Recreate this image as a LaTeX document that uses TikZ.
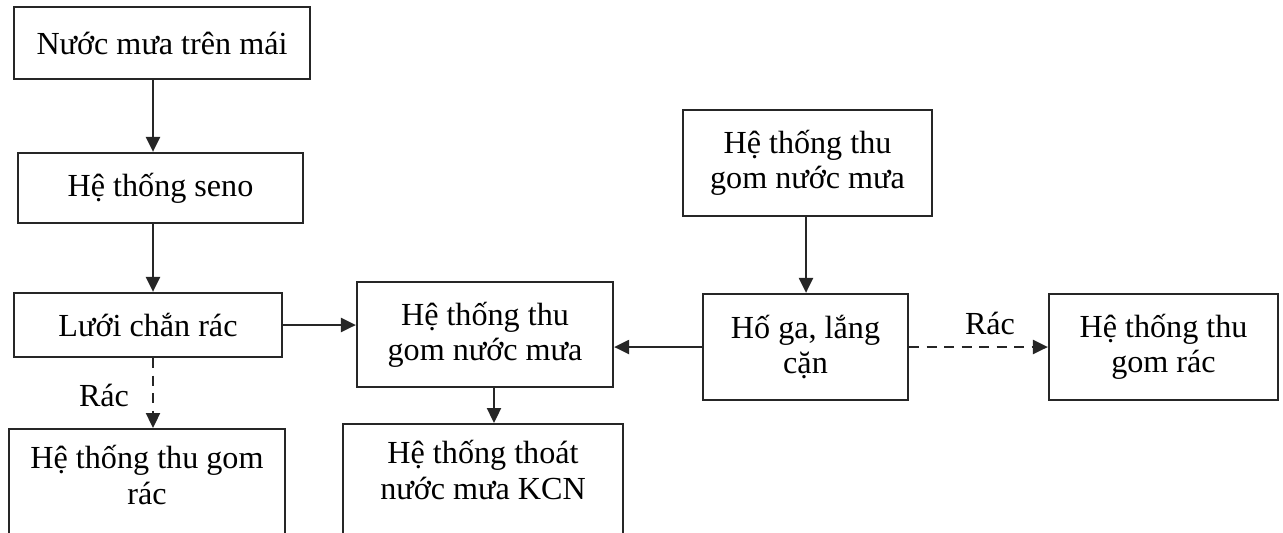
\documentclass[tikz,border=0pt]{standalone}
\usepackage{fontspec}
\setmainfont{Liberation Serif}
\usetikzlibrary{arrows.meta}
\begin{document}
\begin{tikzpicture}[x=0.02cm,y=-0.02cm,
  box/.style={draw=black!85,line width=1.3pt,align=center,inner sep=0pt,font=\fontsize{18.3}{20}\selectfont},
  lbl/.style={align=center,font=\fontsize{18.3}{20}\selectfont},
  arr/.style={draw=black!85,line width=1.3pt,-{Triangle[length=0.3cm,width=0.28cm]}},
  dasharr/.style={arr,dash pattern=on 0.2cm off 0.15cm}]
\useasboundingbox (0,0) rectangle (1283,532);
\clip (0,0) rectangle (1283,532);
% left column
\node[box,minimum width=5.92cm,minimum height=1.44cm] (mai) at (162,43) {Nước mưa trên mái};
\node[box,minimum width=5.7cm,minimum height=1.4cm] (seno) at (160.5,188) {Hệ thống seno};
\node[box,minimum width=5.36cm,minimum height=1.28cm] (luoi) at (148,325) {Lưới chắn rác};
\node[box,minimum width=5.52cm,minimum height=2.6cm,anchor=north] (gomracA) at (147,428) {};
\node[lbl] (gomracAtxt) at (147,475) {Hệ thống thu gom\\rác};
% middle
\node[box,minimum width=5.12cm,minimum height=2.1cm] (thugom) at (485,334.5) {Hệ thống thu\\gom nước mưa};
\node[box,minimum width=5.6cm,minimum height=2.6cm,anchor=north] (thoat) at (483,423) {};
\node[lbl] (thoattxt) at (483,470) {Hệ thống thoát\\nước mưa KCN};
% right side
\node[box,minimum width=4.98cm,minimum height=2.12cm] (thugomB) at (807.5,163) {Hệ thống thu\\gom nước mưa};
\node[box,minimum width=4.1cm,minimum height=2.12cm] (hoga) at (805.5,347) {Hố ga, lắng\\cặn};
\node[box,minimum width=4.58cm,minimum height=2.12cm] (gomracB) at (1163.5,347) {Hệ thống thu\\gom rác};
% arrows
\coordinate (colA) at (153,0);
\coordinate (colB) at (494,0);
\coordinate (colC) at (806,0);
\draw[arr] (mai.south -| colA) -- (seno.north -| colA);
\draw[arr] (seno.south -| colA) -- (luoi.north -| colA);
\draw[dasharr] (luoi.south -| colA) -- (gomracA.north -| colA);
\node[lbl] (racA) at (104,395) {Rác};
\draw[arr] (luoi.east) -- (thugom.west |- luoi.east);
\draw[arr] (thugom.south -| colB) -- (thoat.north -| colB);
\draw[arr] (thugomB.south -| colC) -- (hoga.north -| colC);
\draw[arr] (hoga.west) -- (thugom.east |- hoga.west);
\draw[dasharr] (hoga.east) -- (gomracB.west);
\node[lbl] (racB) at (990,323) {Rác};
\end{tikzpicture}
\end{document}
